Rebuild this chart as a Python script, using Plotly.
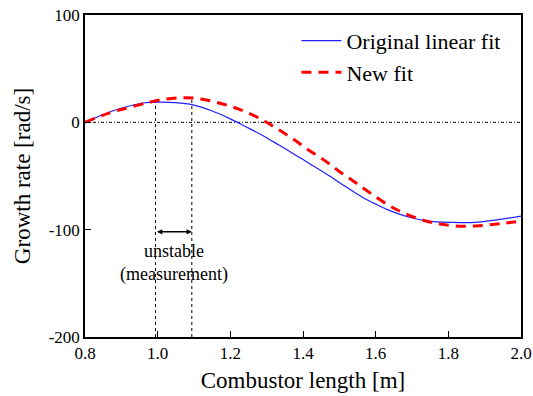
import plotly.graph_objects as go

# ---- data ----
orig_x = [0.8, 0.878, 0.96, 1.0, 1.05, 1.097, 1.15, 1.197, 1.243, 1.289, 1.334, 1.38,
          1.425, 1.471, 1.517, 1.562, 1.604, 1.636, 1.69, 1.745, 1.809, 1.873, 1.937, 2.0]
orig_y = [0, 10.8, 18.0, 18.8, 18.3, 16.2, 10.5, 3.7, -4.1, -12.2, -21.2, -30.6,
          -39.9, -49.6, -59.8, -69.5, -76.8, -81.8, -88.2, -92.0, -93.2, -93.2, -90.7, -87.3]

new_x = [0.8, 0.864, 0.923, 0.978, 1.019, 1.074, 1.124, 1.179, 1.225, 1.275, 1.32, 1.366,
         1.412, 1.458, 1.499, 1.542, 1.585, 1.636, 1.681, 1.732, 1.782, 1.841, 1.896, 1.946, 2.0]
new_y = [0, 8.4, 14.0, 18.7, 21.5, 23.0, 21.5, 17.1, 12.0, 4.7, -4.1, -14.0,
         -25.0, -35.2, -45.5, -55.5, -65.8, -77.3, -85.0, -91.3, -95.0, -96.9, -96.0, -94.4, -92.0]

unstable_range = [0.994, 1.094]
unstable_top = [20.5, 23.5]
arrow_level = -102
x_ticks = [0.8, 1.0, 1.2, 1.4, 1.6, 1.8, 2.0]
y_ticks = [100, 0, -100, -200]

FONT = "Liberation Serif"

fig = go.Figure()

# zero reference line
fig.add_trace(go.Scatter(x=[0.8, 2.0], y=[0, 0], mode="lines", showlegend=False,
                         line=dict(color="black", width=1, dash="3px,2px,1px,2px"),
                         hoverinfo="skip"))
# vertical dotted lines for unstable range
for xv, yt in zip(unstable_range, unstable_top):
    fig.add_trace(go.Scatter(x=[xv, xv], y=[-200, yt], mode="lines", showlegend=False,
                             line=dict(color="black", width=1, dash="dot"),
                             hoverinfo="skip"))

fig.add_trace(go.Scatter(x=orig_x, y=orig_y, mode="lines", name="Original linear fit",
                         line=dict(color="#2020FF", width=1.2, shape="spline")))
fig.add_trace(go.Scatter(x=new_x, y=new_y, mode="lines", name="New fit",
                         line=dict(color="#FF0000", width=3, dash="10px,7px", shape="spline")))

# double arrow
fig.add_annotation(x=unstable_range[1], y=arrow_level, ax=unstable_range[0], ay=arrow_level,
                   xref="x", yref="y", axref="x", ayref="y", text="", showarrow=True,
                   arrowhead=2, arrowsize=0.7, arrowwidth=1.5, arrowside="end+start",
                   arrowcolor="black", startarrowhead=2, startarrowsize=0.7)
fig.add_annotation(x=sum(unstable_range) / 2, y=arrow_level - 7, xref="x", yref="y",
                   text="unstable<br>(measurement)", showarrow=False, yanchor="top",
                   font=dict(family=FONT, size=18, color="black"))

fig.update_layout(
    width=533, height=396,
    margin=dict(l=85, r=12, t=15, b=59),
    paper_bgcolor="white", plot_bgcolor="white",
    font=dict(family=FONT, color="black"),
    legend=dict(x=0.485, y=0.985, xanchor="left", yanchor="top",
                bgcolor="rgba(0,0,0,0)", font=dict(family=FONT, size=22),
                tracegroupgap=0, itemwidth=40),
    showlegend=True,
)
fig.update_xaxes(range=[0.8, 2.0], tickvals=x_ticks, ticktext=[f"{v:.1f}" for v in x_ticks],
                 ticks="inside", ticklen=6, tickcolor="black", showline=True, linecolor="black",
                 linewidth=1.5, mirror=True, showgrid=False, zeroline=False, automargin=False,
                 ticklabeloverflow="allow",
                 tickfont=dict(family=FONT, size=17),
                 title=dict(text="Combustor length [m]", font=dict(family=FONT, size=23), standoff=10))
fig.update_yaxes(range=[-200, 100], tickvals=y_ticks, ticktext=[str(v) if v >= 0 else "-" + str(-v) for v in y_ticks],
                 ticks="inside", ticklen=6, tickcolor="black", showline=True, linecolor="black",
                 linewidth=1.5, mirror=True, showgrid=False, zeroline=False, automargin=False,
                 ticklabeloverflow="allow",
                 tickfont=dict(family=FONT, size=17),
                 title=dict(text="Growth rate [rad/s]", font=dict(family=FONT, size=23), standoff=12))

fig.write_html("out.html")
